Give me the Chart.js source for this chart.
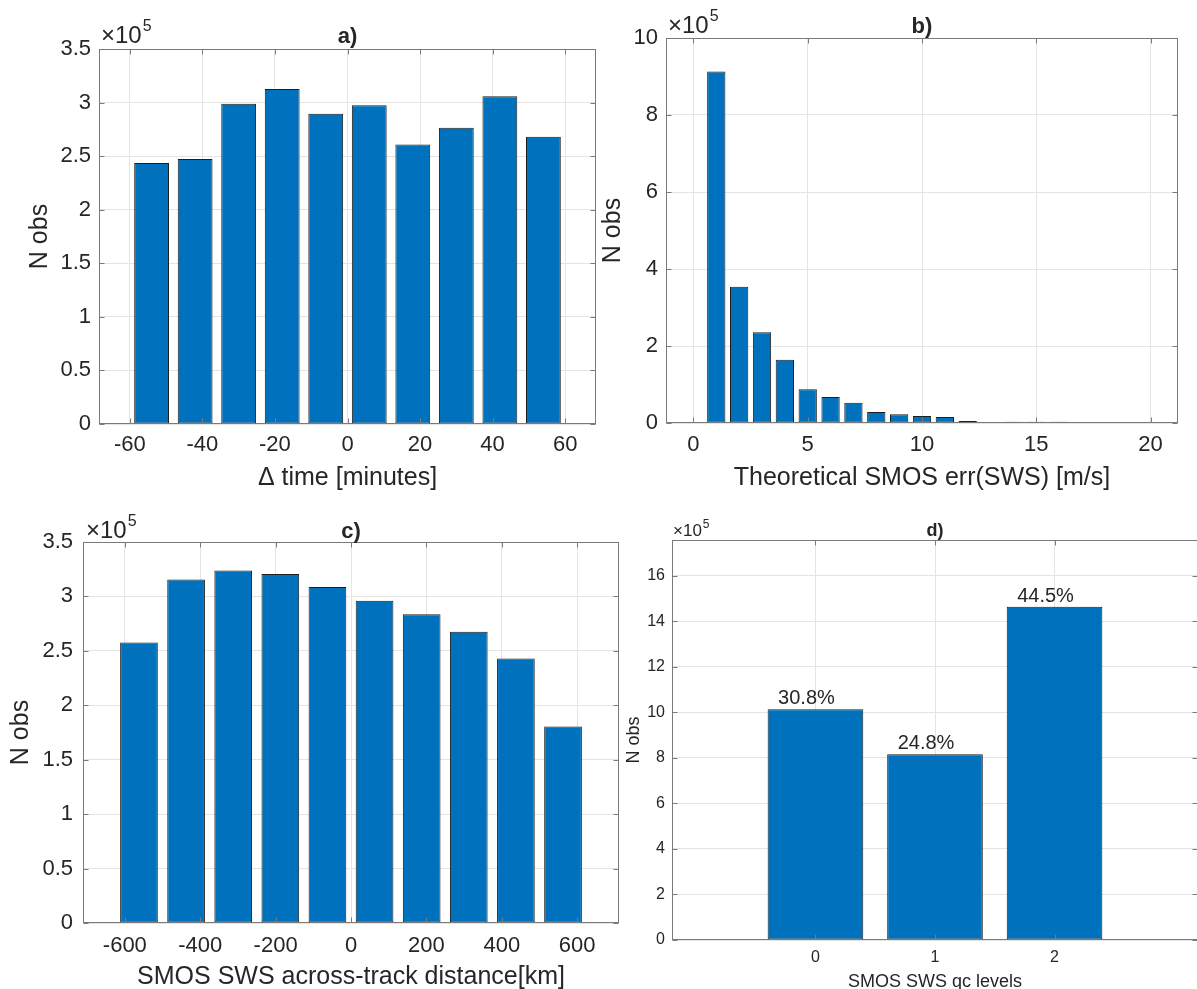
<!DOCTYPE html>
<html>
<head>
<meta charset="utf-8">
<title>SMOS SWS collocation statistics</title>
<script src="https://cdn.jsdelivr.net/npm/chart.js@4.4.1/dist/chart.umd.min.js"></script>
<style>
  html, body { margin: 0; padding: 0; background: #fff; overflow: hidden; }
  body { width: 1197px; height: 989px; position: relative; }
  .panel { position: absolute; }
</style>
</head>
<body>
<div class="panel" id="wrapA"><canvas id="chartA"></canvas></div>
<div class="panel" id="wrapB"><canvas id="chartB"></canvas></div>
<div class="panel" id="wrapC"><canvas id="chartC"></canvas></div>
<div class="panel" id="wrapD"><canvas id="chartD"></canvas></div>
<script>
// a) time difference between collocated observations
const timeBinCenters = [-54, -42, -30, -18, -6, 6, 18, 30, 42, 54];
const timeCounts = [243700, 247400, 298800, 312600, 289500, 297600, 260800, 276400, 306000, 268000];
const timeTicks = [-60, -40, -20, 0, 20, 40, 60];

// b) theoretical SMOS wind speed error
const errBinCenters = [1, 2, 3, 4, 5, 6, 7, 8, 9, 10, 11, 12, 13, 14, 15, 16, 17];
const errCounts = [913000, 354000, 235700, 164600, 87600, 67600, 52900, 28600, 22600, 18200, 15600, 5200, 1500, 3500, 3500, 3500, 1200];
const errTicks = [0, 5, 10, 15, 20];
const errCountTicks = [0, 200000, 400000, 600000, 800000, 1000000];

// c) across-track distance
const distBinCenters = [-562.5, -437.5, -312.5, -187.5, -62.5, 62.5, 187.5, 312.5, 437.5, 562.5];
const distCounts = [257700, 315600, 323900, 320600, 308600, 296000, 283700, 267500, 242900, 180400];
const distTicks = [-600, -400, -200, 0, 200, 400, 600];

// shared y ticks for a) and c)
const countTicks = [0, 50000, 100000, 150000, 200000, 250000, 300000, 350000];

// d) quality control levels
const qcLevels = [0, 1, 2];
const qcCounts = [1013000, 816000, 1464000];
const qcCountTicks = [0, 200000, 400000, 600000, 800000, 1000000, 1200000, 1400000, 1600000];

const FONT = "'Liberation Sans', Arial, Helvetica, sans-serif";
const TEXT = '#262626';
const AXIS = '#7a7a7a';
const GRID = '#e4e4e4';
const BAR_FILL = '#0072BD';
const BAR_EDGE = '#1e1e1e';
const TICK_LEN = 5;

Chart.defaults.font.family = FONT;
Chart.defaults.color = TEXT;

// MATLAB-like box: frame, inward ticks on all sides, bold title, x10^5 exponent, bar labels
const matlabAxes = {
  id: 'matlabAxes',
  afterDraw(chart, args, opts) {
    const { ctx, chartArea: area, scales: { x, y } } = chart;
    const L = Math.round(area.left) + 0.5;
    const R = Math.round(area.right) - 0.5;
    const T = Math.round(area.top) + 0.5;
    const B = Math.round(area.bottom) - 0.5;
    ctx.save();
    ctx.strokeStyle = AXIS;
    ctx.lineWidth = 1;
    ctx.strokeRect(L, T, R - L, B - T);
    ctx.beginPath();
    x.ticks.forEach((t) => {
      const px = Math.round(x.getPixelForValue(t.value)) + 0.5;
      ctx.moveTo(px, B); ctx.lineTo(px, B - TICK_LEN);
      ctx.moveTo(px, T); ctx.lineTo(px, T + TICK_LEN);
    });
    y.ticks.forEach((t) => {
      const py = Math.round(y.getPixelForValue(t.value)) + 0.5;
      ctx.moveTo(L, py); ctx.lineTo(L + TICK_LEN, py);
      ctx.moveTo(R, py); ctx.lineTo(R - TICK_LEN, py);
    });
    ctx.stroke();

    ctx.fillStyle = TEXT;
    ctx.textBaseline = 'alphabetic';
    ctx.textAlign = 'center';
    ctx.font = `bold ${opts.titleSize}px ${FONT}`;
    ctx.fillText(opts.title, (area.left + area.right) / 2, area.top - opts.titleGap);

    // exponent label
    ctx.textAlign = 'left';
    ctx.font = `${opts.expSize}px ${FONT}`;
    const base = '\u00d710';
    const ex = area.left + opts.expShift;
    const ey = area.top - opts.titleGap;
    ctx.fillText(base, ex, ey);
    const w = ctx.measureText(base).width;
    ctx.font = `${Math.round(opts.expSize * 0.68)}px ${FONT}`;
    ctx.fillText('5', ex + w + 1, ey - opts.expSize * 0.5);

    if (opts.barLabels) {
      ctx.textAlign = 'center';
      ctx.font = `${opts.barLabelSize}px ${FONT}`;
      chart.getDatasetMeta(0).data.forEach((bar, i) => {
        ctx.fillText(opts.barLabels[i], bar.x + opts.barLabelShift, bar.y - 5);
      });
    }
    ctx.restore();
  }
};

function buildPanel(p) {
  const wrap = document.getElementById(p.wrapId);
  Object.assign(wrap.style, {
    left: p.box.x + 'px', top: p.box.y + 'px',
    width: p.box.w + 'px', height: p.box.h + 'px'
  });
  const half = p.labelSize * 1.2 / 2;
  const scaleLeft = p.yTitleX - half;
  const scaleBottom = p.xTitleY + half;

  return new Chart(document.getElementById(p.canvasId), {
    type: 'bar',
    data: {
      datasets: [{
        data: p.xs.map((v, i) => ({ x: v, y: p.ys[i] })),
        backgroundColor: BAR_FILL,
        borderColor: BAR_EDGE,
        borderWidth: 1,
        borderSkipped: false,
        barPercentage: 0.8,
        categoryPercentage: 1
      }]
    },
    options: {
      responsive: true,
      maintainAspectRatio: false,
      animation: false,
      events: [],
      layout: {
        padding: {
          left: scaleLeft - p.box.x,
          top: p.plot.t - p.box.y,
          right: p.box.x + p.box.w - p.plot.r,
          bottom: p.box.y + p.box.h - scaleBottom
        }
      },
      plugins: {
        legend: { display: false },
        tooltip: { enabled: false },
        matlabAxes: p.deco
      },
      scales: {
        x: {
          type: 'linear',
          min: p.xMin,
          max: p.xMax,
          offset: false,
          grid: { offset: false, color: GRID, drawTicks: false },
          border: { display: false },
          afterBuildTicks: (s) => { s.ticks = p.xTicks.map((v) => ({ value: v })); },
          afterFit: (s) => { s.height = scaleBottom - p.plot.b; },
          ticks: {
            autoSkip: false, maxRotation: 0, padding: p.xTickPad,
            font: { size: p.tickSize }, color: TEXT,
            callback: (v) => String(v)
          },
          title: { display: true, text: p.xTitle, padding: 0, font: { size: p.labelSize }, color: TEXT }
        },
        y: {
          type: 'linear',
          min: 0,
          max: p.yMax,
          grid: { color: GRID, drawTicks: false },
          border: { display: false },
          afterBuildTicks: (s) => { s.ticks = p.yTicks.map((v) => ({ value: v })); },
          afterFit: (s) => { s.width = p.plot.l - scaleLeft; },
          ticks: {
            autoSkip: false, padding: p.yTickPad,
            font: { size: p.tickSize }, color: TEXT,
            callback: (v) => String(Math.round(v / 1000) / 100)
          },
          title: { display: true, text: 'N obs', padding: 0, font: { size: p.labelSize }, color: TEXT }
        }
      }
    },
    plugins: [matlabAxes]
  });
}

const qcTotal = qcCounts.reduce((a, b) => a + b, 0);
const qcPercent = qcCounts.map((v) => (100 * v / qcTotal).toFixed(1) + '%');

buildPanel({
  wrapId: 'wrapA', canvasId: 'chartA',
  box: { x: 0, y: 0, w: 598, h: 500 },
  plot: { l: 99, t: 49, r: 596, b: 424 },
  yTitleX: 40, xTitleY: 478,
  xs: timeBinCenters, ys: timeCounts,
  xMin: -68.5, xMax: 68.5, xTicks: timeTicks,
  yMax: 350000, yTicks: countTicks,
  xTitle: '\u0394 time [minutes]',
  tickSize: 22, labelSize: 25, xTickPad: 8, yTickPad: 8,
  deco: { title: 'a)', titleSize: 22, titleGap: 6, expSize: 24, expShift: 2 }
});

buildPanel({
  wrapId: 'wrapB', canvasId: 'chartB',
  box: { x: 590, y: 0, w: 607, h: 500 },
  plot: { l: 666, t: 38, r: 1178, b: 423 },
  yTitleX: 613, xTitleY: 478,
  xs: errBinCenters, ys: errCounts,
  xMin: -1.2, xMax: 21.2, xTicks: errTicks,
  yMax: 1000000, yTicks: errCountTicks,
  xTitle: 'Theoretical SMOS err(SWS) [m/s]',
  tickSize: 22, labelSize: 25, xTickPad: 9, yTickPad: 8,
  deco: { title: 'b)', titleSize: 22, titleGap: 5, expSize: 24, expShift: 2 }
});

buildPanel({
  wrapId: 'wrapC', canvasId: 'chartC',
  box: { x: 0, y: 500, w: 640, h: 500 },
  plot: { l: 83, t: 542, r: 619, b: 923 },
  yTitleX: 21, xTitleY: 977,
  xs: distBinCenters, ys: distCounts,
  xMin: -711, xMax: 711, xTicks: distTicks,
  yMax: 350000, yTicks: countTicks,
  xTitle: 'SMOS SWS across-track distance[km]',
  tickSize: 22, labelSize: 25, xTickPad: 10, yTickPad: 10,
  deco: { title: 'c)', titleSize: 22, titleGap: 4, expSize: 24, expShift: 3 }
});

buildPanel({
  wrapId: 'wrapD', canvasId: 'chartD',
  box: { x: 620, y: 500, w: 600, h: 500 },
  plot: { l: 672, t: 540, r: 1198, b: 940 },
  yTitleX: 634, xTitleY: 982,
  xs: qcLevels, ys: qcCounts,
  xMin: -1.2, xMax: 3.2, xTicks: qcLevels,
  yMax: 1.2 * Math.max(...qcCounts), yTicks: qcCountTicks,
  xTitle: 'SMOS SWS qc levels',
  tickSize: 16, labelSize: 18, xTickPad: 8, yTickPad: 7,
  deco: {
    title: 'd)', titleSize: 18, titleGap: 4, expSize: 17, expShift: 1,
    barLabels: qcPercent, barLabelSize: 20, barLabelShift: -9
  }
});
</script>
</body>
</html>
